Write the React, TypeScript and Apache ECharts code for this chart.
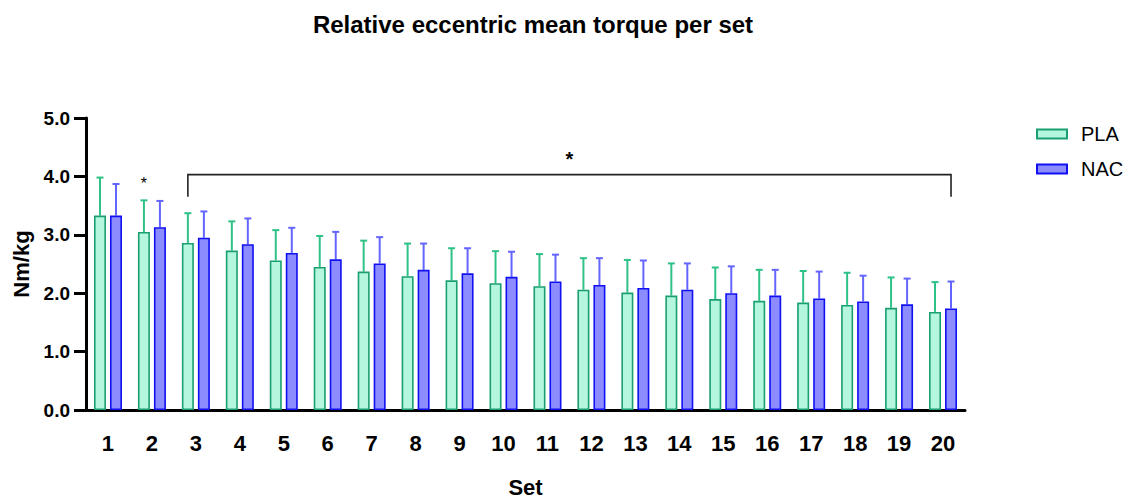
import React, { useEffect, useRef } from "react";
import * as echarts from "echarts";

// Set numbers along the x axis
const sets = ["1", "2", "3", "4", "5", "6", "7", "8", "9", "10", "11", "12", "13", "14", "15", "16", "17", "18", "19", "20"];

// Mean relative eccentric torque (Nm/kg) and upper SD per set
const plaMean = [3.33, 3.05, 2.86, 2.73, 2.56, 2.45, 2.37, 2.29, 2.22, 2.17, 2.12, 2.06, 2.01, 1.96, 1.9, 1.87, 1.84, 1.8, 1.75, 1.68];
const plaSd = [0.65, 0.54, 0.51, 0.5, 0.52, 0.53, 0.53, 0.56, 0.55, 0.55, 0.55, 0.54, 0.56, 0.55, 0.54, 0.53, 0.54, 0.55, 0.52, 0.51];
const nacMean = [3.33, 3.13, 2.95, 2.84, 2.69, 2.58, 2.51, 2.4, 2.34, 2.28, 2.2, 2.14, 2.09, 2.06, 2.0, 1.96, 1.91, 1.86, 1.81, 1.74];
const nacSd = [0.54, 0.45, 0.45, 0.44, 0.43, 0.47, 0.45, 0.45, 0.43, 0.43, 0.46, 0.46, 0.47, 0.45, 0.46, 0.44, 0.46, 0.44, 0.44, 0.46];

// Y axis ticks
const yMin = 0;
const yMax = 5;
const yStep = 1;

// Significance annotations: bracket spanning sets 3-20, single star on set 2
const bracketFrom = 2; // index of set 3
const bracketTo = 19; // index of set 20
const bracketTop = 4.03;
const bracketLegEnd = 3.65;
const bracketStar = 4.3;
const singleStarSet = 1; // index of set 2
const singleStarValue = 3.88;

const FONT = "'Liberation Sans', Arial, sans-serif";
const BAR_W = 12;
const BAR_GAP = 4;
const SHIFT = (BAR_W + BAR_GAP) / 2;

const PLA_FILL = "#b4f6de";
const PLA_EDGE = "#1a9f70";
const PLA_ERR = "#2ec287";
const NAC_FILL = "#8c8cff";
const NAC_EDGE = "#1010f0";
const NAC_ERR = "#6464ff";

function errorBars(name: string, means: number[], sds: number[], shift: number, color: string) {
  return {
    type: "custom",
    name,
    z: 1,
    silent: true,
    encode: { x: 0, y: [1, 2] },
    data: means.map((m, i) => [i, m, m + sds[i]]),
    renderItem: (_params: any, api: any) => {
      const base = api.coord([api.value(0), api.value(1)]);
      const top = api.coord([api.value(0), api.value(2)]);
      const x = base[0] + shift;
      const style = { stroke: color, lineWidth: 2 };
      return {
        type: "group",
        children: [
          { type: "line", shape: { x1: x, y1: base[1], x2: x, y2: top[1] }, style },
          { type: "line", shape: { x1: x - 3.5, y1: top[1], x2: x + 3.5, y2: top[1] }, style },
        ],
      };
    },
  };
}

export default function App() {
  const ref = useRef<HTMLDivElement>(null);

  useEffect(() => {
    if (!ref.current) return;
    const chart = echarts.init(ref.current, null, { renderer: "svg" });

    const annotations = {
      type: "custom",
      name: "sig",
      z: 5,
      silent: true,
      encode: { x: [0, 2], y: [1, 3] },
      data: [[bracketFrom, bracketTop, bracketTo, bracketLegEnd]],
      renderItem: (_params: any, api: any) => {
        const a = api.coord([bracketFrom, bracketTop]);
        const b = api.coord([bracketTo, bracketTop]);
        const legY = api.coord([bracketFrom, bracketLegEnd])[1];
        const starY = api.coord([bracketFrom, bracketStar])[1];
        const x1 = a[0] - SHIFT;
        const x2 = b[0] + SHIFT;
        const s = api.coord([singleStarSet, singleStarValue]);
        return {
          type: "group",
          children: [
            {
              type: "polyline",
              shape: { points: [[x1, legY], [x1, a[1]], [x2, a[1]], [x2, legY]] },
              style: { stroke: "#222", lineWidth: 1.6, fill: "none" },
            },
            {
              type: "text",
              x: (x1 + x2) / 2,
              y: starY,
              style: { text: "*", fontSize: 20, fontWeight: "bold", fontFamily: FONT, fill: "#000", align: "center", verticalAlign: "middle" },
            },
            {
              type: "text",
              x: s[0] - SHIFT,
              y: s[1],
              style: { text: "*", fontSize: 16, fontFamily: FONT, fill: "#000", align: "center", verticalAlign: "middle" },
            },
          ],
        };
      },
    };

    chart.setOption({
      animation: false,
      backgroundColor: "#fff",
      title: {
        text: "Relative eccentric mean torque per set",
        left: 528,
        top: 7,
        textAlign: "center",
        textStyle: { fontFamily: FONT, fontSize: 24, fontWeight: "bold", color: "#000" },
      },
      legend: {
        data: ["PLA", "NAC"],
        orient: "vertical",
        left: 1031,
        top: 119,
        itemWidth: 30,
        itemHeight: 9,
        itemGap: 15,
        icon: "rect",
        textStyle: { fontFamily: FONT, fontSize: 20, color: "#000", padding: [0, 0, 0, 9] },
      },
      grid: { left: 86, right: 164, top: 118, bottom: 87, containLabel: false },
      xAxis: {
        type: "category",
        data: sets,
        name: "Set",
        nameLocation: "middle",
        nameGap: 66,
        nameTextStyle: { fontFamily: FONT, fontSize: 22, fontWeight: "bold", color: "#000" },
        axisLine: { lineStyle: { color: "#000", width: 3 } },
        axisTick: { alignWithLabel: true, length: 11, lineStyle: { color: "#000", width: 3 } },
        axisLabel: { margin: 22, fontFamily: FONT, fontSize: 22, fontWeight: "bold", color: "#000" },
      },
      yAxis: {
        type: "value",
        min: yMin,
        max: yMax,
        interval: yStep,
        name: "Nm/kg",
        nameLocation: "middle",
        nameGap: 52,
        nameTextStyle: { fontFamily: FONT, fontSize: 22, fontWeight: "bold", color: "#000" },
        axisLine: { show: true, lineStyle: { color: "#000", width: 3 } },
        axisTick: { show: true, length: 12, lineStyle: { color: "#000", width: 3 } },
        axisLabel: { margin: 16, fontFamily: FONT, fontSize: 19, fontWeight: "bold", color: "#000", formatter: (v: number) => v.toFixed(1) },
        splitLine: { show: false },
      },
      series: [
        {
          type: "bar",
          name: "PLA",
          data: plaMean,
          barWidth: BAR_W,
          barGap: `${(BAR_GAP / BAR_W) * 100}%`,
          z: 2,
          itemStyle: { color: PLA_FILL, borderColor: PLA_EDGE, borderWidth: 1.6 },
        },
        {
          type: "bar",
          name: "NAC",
          data: nacMean,
          barWidth: BAR_W,
          z: 2,
          itemStyle: { color: NAC_FILL, borderColor: NAC_EDGE, borderWidth: 1.6 },
        },
        errorBars("PLA SD", plaMean, plaSd, -SHIFT, PLA_ERR),
        errorBars("NAC SD", nacMean, nacSd, SHIFT, NAC_ERR),
        annotations,
      ],
    });

    return () => chart.dispose();
  }, []);

  return <div ref={ref} style={{ position: "fixed", left: 0, top: 0, width: 1129, height: 503 }} />;
}
